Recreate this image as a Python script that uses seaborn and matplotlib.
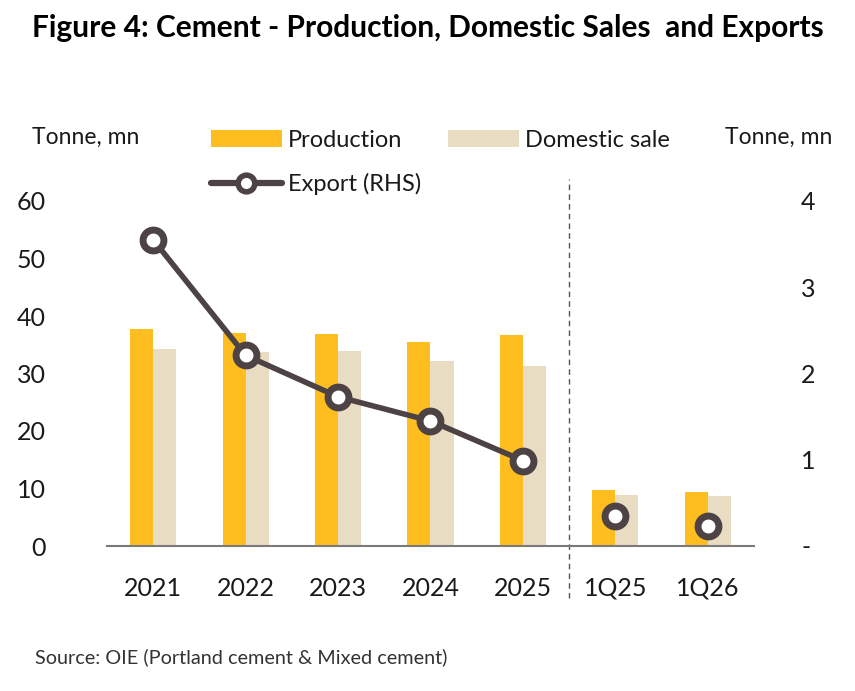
import numpy as np
import pandas as pd
import seaborn as sns
import matplotlib
matplotlib.use("Agg")
import matplotlib.pyplot as plt
from matplotlib.lines import Line2D
from matplotlib.patches import Patch

categories = ["2021", "2022", "2023", "2024", "2025", "1Q25", "1Q26"]
production = [37.7, 37.0, 36.9, 35.5, 36.7, 9.7, 9.4]
domestic = [34.3, 33.7, 33.9, 32.2, 31.3, 8.8, 8.7]
export = [3.55, 2.21, 1.73, 1.45, 0.99, 0.35, 0.23]
n_annual = 5
left_ticks = [0, 10, 20, 30, 40, 50, 60]
right_ticks = [0, 1, 2, 3, 4]
right_labels = ["-", "1", "2", "3", "4"]

C_PROD = "#FEBE1F"
C_DOM = "#E8DCC3"
C_LINE = "#4D4344"
C_TEXT = "#1A1A1A"

sns.set_theme(style="white")
plt.rcParams["font.family"] = ["Lato", "DejaVu Sans"]

df = pd.DataFrame({
    "cat": categories * 2,
    "val": production + domestic,
    "series": ["Production"] * len(categories) + ["Domestic sale"] * len(categories),
})

fig = plt.figure(figsize=(8.55, 6.91), dpi=100)
ax = fig.add_axes([107 / 855, 1 - 546 / 691, (754 - 107) / 855, (546 - 201) / 691])

sns.barplot(data=df, x="cat", y="val", hue="series", order=categories,
            hue_order=["Production", "Domestic sale"],
            palette=[C_PROD, C_DOM], width=0.5, gap=0, saturation=1,
            errorbar=None, ax=ax, legend=False, linewidth=0, edgecolor="none")

ax.set_xlim(-0.5, len(categories) - 0.5)
ax.set_ylim(0, 60)
ax.set_yticks(left_ticks)
ax.set_yticklabels([str(t) for t in left_ticks])
ax.set_xlabel("")
ax.set_ylabel("")
for s in ["left", "right", "top"]:
    ax.spines[s].set_visible(False)
ax.spines["bottom"].set_color("#7A7A7A")
ax.spines["bottom"].set_linewidth(1.5)
ax.tick_params(axis="both", length=0, labelsize=18, colors=C_TEXT)
ax.tick_params(axis="y", pad=44)
ax.tick_params(axis="x", pad=22)

ax2 = ax.twinx()
xpos = np.arange(len(categories))
sns.lineplot(x=xpos[:n_annual], y=export[:n_annual], ax=ax2, color=C_LINE,
             linewidth=4, marker="o", markersize=15, markerfacecolor="white",
             markeredgecolor=C_LINE, markeredgewidth=5, zorder=5)
ax2.plot(xpos[n_annual:], export[n_annual:], linestyle="none", marker="o",
         markersize=15, markerfacecolor="white", markeredgecolor=C_LINE,
         markeredgewidth=5, zorder=5)
ax2.set_ylim(0, 4)
ax2.set_yticks(right_ticks)
ax2.set_yticklabels(right_labels)
ax2.set_xlim(-0.5, len(categories) - 0.5)
for s in ["left", "right", "top", "bottom"]:
    ax2.spines[s].set_visible(False)
ax2.tick_params(axis="y", length=0, labelsize=18, colors=C_TEXT, pad=34)
ax2.grid(False)
ax.grid(False)

# divider between annual and quarterly
ax.axvline(n_annual - 0.5, ymin=-0.15, ymax=1.065, color="#555555",
           linestyle=(0, (4, 3)), linewidth=1, clip_on=False)

fig.text(0.5, 1 - 28 / 691, "Figure 4: Cement - Production, Domestic Sales  and Exports",
         ha="center", va="center", fontsize=21.5, fontweight="bold", color="black")
fig.text(32 / 855, 1 - 137 / 691, "Tonne, mn", ha="left", va="center", fontsize=16.5, color=C_TEXT)
fig.text(832 / 855, 1 - 137 / 691, "Tonne, mn", ha="right", va="center", fontsize=16.5, color=C_TEXT)
fig.text(35 / 855, 1 - 657 / 691, "Source: OIE (Portland cement & Mixed cement)",
         ha="left", va="center", fontsize=14.3, color="#333333")

handles = [
    Patch(facecolor=C_PROD, edgecolor="none", label="Production"),
    Line2D([0], [0], color=C_LINE, linewidth=4.5, marker="o", markersize=12,
           markerfacecolor="white", markeredgecolor=C_LINE, markeredgewidth=4,
           label="Export (RHS)"),
    Patch(facecolor=C_DOM, edgecolor="none", label="Domestic sale"),
]
fig.legend(handles=handles, ncol=2, loc="upper left",
           bbox_to_anchor=(211 / 855, 1 - 130 / 691), frameon=False,
           fontsize=17, handlelength=3.0, handleheight=0.7, handletextpad=0.25,
           columnspacing=1.15, labelspacing=0.92, borderpad=0, borderaxespad=0,
           labelcolor=C_TEXT)

fig.savefig("out.png", dpi=100)
